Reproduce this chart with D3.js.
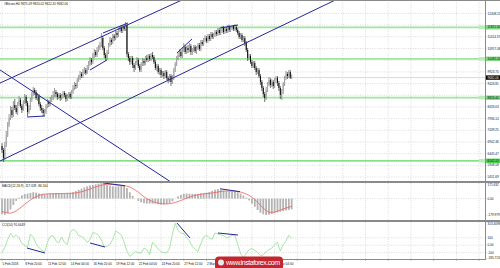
<!DOCTYPE html>
<html>
<head>
<meta charset="utf-8">
<script src="https://cdn.jsdelivr.net/npm/d3@7"></script>
<style>
body { margin: 0; background: #fff; }
svg { display: block; background: #fff; font-family: "Liberation Sans", Arial, sans-serif; }
.grid line { stroke: #c4c4c4; stroke-width: 0.6; stroke-dasharray: 1,1.4; }
.small { font-size: 3.1px; fill: #111; }
.sep { stroke: #8a8a8a; stroke-width: 2; }
.axis-line { stroke: #8a8a8a; stroke-width: 1; }
.trend { stroke: #25259a; stroke-width: 1; fill: none; }
</style>
</head>
<body>
<script>
var w = 500, h = 268;

// H4 candles (open = previous close)
var firstOpen = 6771;
var closes = [
  6601, 6261, 6814, 7239, 7665, 7962, 8303, 8090, 8515, 8388,
  8218, 8558, 8728, 8473, 8303, 8643, 8856, 8600, 8218, 8388,
  8728, 8983, 9153, 9068, 8813, 8898, 8558, 8388, 8303, 8175,
  8218, 8473, 8643, 8558, 8728, 8813, 8941, 9068, 8983, 8856,
  8941, 8813, 8898, 9026, 8941, 8770, 8898, 8983, 8856, 9068,
  9239, 9366, 9324, 9579, 9664, 9834, 9749, 9919, 10004, 9877,
  10089, 10259, 10430, 10344, 10600, 10770, 10642, 10855, 10940, 11068,
  11365, 10940, 10642, 10515, 10770, 11068, 11280, 11195, 11451, 11365,
  11578, 11493, 11706, 11791, 11663, 11833, 11748, 11919, 10685, 10515,
  10344, 10515, 10217, 10089, 10302, 10430, 10174, 10004, 10259, 10387,
  10302, 10515, 10430, 10600, 10472, 10642, 10557, 10344, 10089, 10174,
  9919, 10004, 9792, 9877, 9749, 9919, 9664, 9579, 9749, 9494,
  9664, 10004, 10259, 10515, 10642, 10770, 10600, 10855, 10983, 10770,
  10940, 10855, 11025, 10770, 10855, 10983, 10812, 10940, 11068, 10898,
  11195, 11110, 11280, 11365, 11238, 11451, 11323, 11536, 11408, 11493,
  11621, 11536, 11706, 11578, 11663, 11791, 11621, 11748, 11663, 11833,
  11706, 11791, 11876, 11748, 11833, 11706, 11578, 11408, 11493, 11280,
  11365, 11153, 10855, 10515, 10600, 10344, 10174, 10302, 10089, 9919,
  10004, 9749, 9494, 9239, 8983, 8813, 9153, 9409, 9579, 9366,
  9494, 9324, 9579, 9664, 9451, 9239, 8941, 9068, 9409, 9664,
  9834, 9749, 9919, 9675.09, 9682.06
];
var highs = [
  6899, 6686, 6941, 7409, 7792, 8132, 8473, 8430, 8685, 8770,
  8515, 8643, 8898, 8813, 8558, 8728, 8983, 8941, 8685, 8515,
  8813, 9068, 9281, 9239, 9153, 9026, 8983, 8643, 8515, 8388,
  8345, 8558, 8770, 8728, 8856, 8941, 9111, 9239, 9153, 9068,
  9026, 9026, 8983, 9111, 9111, 9026, 8983, 9068, 9068, 9153,
  9366, 9494, 9451, 9664, 9792, 9962, 9919, 10047, 10132, 10089,
  10217, 10387, 10557, 10515, 10727, 10898, 10855, 10983, 11068, 11195,
  11578, 11451, 11025, 10727, 10855, 11153, 11408, 11365, 11536, 11536,
  11663, 11663, 11791, 11876, 11876, 11919, 11919, 12046, 11961, 10770,
  10600, 10600, 10600, 10302, 10387, 10557, 10515, 10259, 10344, 10515,
  10472, 10600, 10642, 10685, 10685, 10727, 10770, 10642, 10430, 10259,
  10259, 10089, 10089, 9962, 9962, 10004, 10004, 9749, 9834, 9834,
  9792, 10089, 10344, 10600, 10770, 10898, 10855, 10983, 11153, 11068,
  11025, 11068, 11153, 11110, 10940, 11068, 11068, 11025, 11153, 11153,
  11280, 11280, 11365, 11493, 11451, 11536, 11536, 11621, 11621, 11578,
  11706, 11706, 11791, 11791, 11748, 11876, 11876, 11833, 11833, 11919,
  11919, 11876, 11919, 11919, 11961, 11919, 11791, 11663, 11578, 11578,
  11451, 11451, 11238, 10940, 10685, 10685, 10430, 10387, 10387, 10174,
  10089, 10089, 9834, 9579, 9324, 9068, 9281, 9494, 9706, 9664,
  9621, 9579, 9664, 9749, 9749, 9536, 9324, 9196, 9494, 9749,
  9962, 9919, 10004, 10004, 9820.02
];
var lows = [
  6473, 6090, 6176, 6729, 7154, 7580, 7877, 7962, 8005, 8303,
  8132, 8090, 8473, 8388, 8175, 8260, 8558, 8473, 8047, 8132,
  8303, 8643, 8898, 8941, 8728, 8685, 8473, 8260, 8175, 8047,
  8047, 8132, 8388, 8430, 8473, 8643, 8728, 8856, 8856, 8728,
  8770, 8685, 8728, 8813, 8856, 8643, 8685, 8813, 8770, 8770,
  8983, 9153, 9196, 9239, 9494, 9579, 9664, 9664, 9834, 9792,
  9834, 10004, 10174, 10217, 10259, 10515, 10557, 10557, 10770, 10855,
  10983, 10855, 10515, 10387, 10430, 10685, 10983, 11068, 11110, 11238,
  11280, 11365, 11408, 11621, 11578, 11578, 11663, 11663, 10557, 10387,
  10217, 10259, 10089, 9919, 10004, 10217, 10089, 9919, 9919, 10174,
  10174, 10217, 10344, 10344, 10387, 10387, 10472, 10259, 10004, 9962,
  9834, 9792, 9664, 9706, 9621, 9664, 9579, 9451, 9494, 9324,
  9409, 9579, 9919, 10174, 10430, 10557, 10515, 10515, 10770, 10685,
  10685, 10727, 10770, 10642, 10642, 10770, 10727, 10685, 10855, 10812,
  10812, 11025, 11025, 11195, 11153, 11153, 11238, 11238, 11323, 11323,
  11408, 11451, 11451, 11493, 11493, 11578, 11536, 11536, 11578, 11578,
  11621, 11621, 11706, 11663, 11663, 11621, 11493, 11323, 11323, 11195,
  11195, 11025, 10770, 10387, 10430, 10259, 10089, 10089, 10004, 9792,
  9834, 9664, 9366, 9111, 8856, 8643, 8728, 9068, 9324, 9239,
  9281, 9196, 9239, 9451, 9324, 9111, 8770, 8728, 8983, 9324,
  9579, 9621, 9664, 9621, 9622.45
];

// oscillators, one value per two bars
var macdMain = [
  -170, -178, -160, -120, -70, -25, 10, 35, 50, 55,
  62, 70, 66, 58, 52, 48, 50, 55, 58, 62,
  60, 58, 57, 60, 62, 70, 82, 95, 110, 122,
  135, 145, 152, 158, 164, 170, 160, 150, 142, 135,
  132, 135, 140, 142, 115, 70, 30, 0, -25, -40,
  -50, -55, -55, -56, -55, -60, -65, -62, -58, -50,
  -30, 0, 25, 42, 52, 55, 55, 52, 50, 52,
  58, 62, 66, 72, 85, 98, 104, 96, 88, 82,
  80, 78, 76, 70, 55, 35, 10, -20, -55, -90,
  -125, -155, -172, -179.979, -176, -168, -160, -152, -145, -138,
  -131, -124, -117.639
];
var macdSignal = [
  -140, -150, -158, -160, -150, -135, -112, -88, -62, -38,
  -15, 5, 22, 35, 44, 50, 52, 53, 53, 54,
  55, 56, 57, 58, 59, 60, 63, 68, 75, 84,
  95, 106, 117, 128, 138, 147, 154, 158, 158, 155,
  150, 146, 143, 141, 138, 128, 112, 92, 70, 45,
  20, 0, -18, -32, -42, -50, -55, -58, -58, -56,
  -50, -42, -32, -20, -8, 5, 16, 26, 35, 42,
  48, 52, 55, 58, 62, 67, 72, 78, 82, 84,
  84, 83, 81, 78, 72, 62, 50, 35, 15, -10,
  -40, -72, -105, -130, -148, -152, -148, -138, -126, -114,
  -103, -94, -86.164
];
var cciValues = [
  -100, -30, 80, 160, 110, 140, 100, 25, 0, -30,
  150, 110, 20, -30, -65, -95, 40, 120, 130, 60,
  30, 110, 40, 10, 170, 215, 190, 130, 118, 90,
  35, 80, 170, 160, 135, 70, -20, -15, 10, 80,
  190, 170, 140, 40, -80, -150, -120, -85, -100, -105,
  -40, -60, -125, 40, 0, -50, -88, -100, -105, -40,
  150, 295, 200, 160, 160, 100, 60, -15, -55, -85,
  20, 110, 135, 100, 80, 165, 150, 140, 130, 100,
  110, 135, 138, 10, -110, -170, -110, -60, -45, -70,
  -95, -140, -130, -90, -60, -40, 10, 40, -80, 10,
  60, 135, 91.6449
];

var priceTicks = [12408.15, 11911.26, 11414.37, 10917.48, 10420.59, 9923.70, 9426.81,
  8929.92, 8433.03, 7936.14, 7439.25, 6942.36, 6445.47, 5948.58, 5451.69];
var macdTicks = [171.632, 0, -179.979];
var cciTicks = [313.4096, 100, 0, -100, -185.7138];
var cciLevels = [100, 0, -100];
var dateLabels = ["5 Feb 2018", "8 Feb 20:00", "11 Feb 12:00", "14 Feb 04:00", "16 Feb 20:00",
  "19 Feb 12:00", "22 Feb 04:00", "24 Feb 20:00", "27 Feb 12:00", "2 Mar 04:00",
  "4 Mar 20:00", "7 Mar 12:00", "10 Mar 04:00"];
var levelPrices = [11821.30, 10481.05, 8826.40, 6142.15];
var lastPrice = 9682.06;

// trend lines: [bar, value] pairs
var priceTrends = [
  [[-2.1, 9430], [130.3, 13080]],
  [[-2.1, 10034], [118.3, 5265]],
  [[-2.1, 6112], [238, 13076]],
  [[17.6, 8005], [30.3, 8047]],
  [[62.0, 10004], [73.9, 10430]],
  [[71.1, 11578], [88.7, 12004]],
  [[123.2, 10727], [133.8, 11323]],
  [[153.5, 11791], [166.2, 11919]]
];
var macdTrends = [
  [[71.1, 172], [86.6, 142]],
  [[153.5, 108], [167.6, 76]]
];
var cciTrends = [
  [[17.6, -38], [30.3, -105]],
  [[62.0, 30], [72.5, -24]],
  [[123.2, 300], [132.4, 97]],
  [[152.1, 165], [166.2, 138]]
];

var plotRight = 485;
var xBar = d3.scaleLinear().domain([0, 340]).range([2, 2 + 340 * 1.42]);
var yPrice = d3.scaleLinear().domain([5282.3, 12982]).range([181, 0]);
var yMacd = d3.scaleLinear().domain([-179.979, 171.632]).range([215, 183]);
var yCci = d3.scaleLinear().domain([-185.7138, 313.4096]).range([259, 222]);

var svg = d3.select("body").append("svg").attr("width", w).attr("height", h);

var defs = svg.append("defs");
function clip(id, y0, y1) {
  defs.append("clipPath").attr("id", id).append("rect")
    .attr("x", 0).attr("y", y0).attr("width", plotRight).attr("height", y1 - y0);
}
clip("cMain", 0, 181);
clip("cMacd", 183, 220);
clip("cCci", 222, 259);

/* grid */
var grid = svg.append("g").attr("class", "grid");
var tickBars = d3.range(0, 340, 16);
[[0, 181], [183, 220], [222, 259]].forEach(function(p) {
  grid.selectAll(null).data(tickBars).enter().append("line")
    .attr("x1", function(d) { return xBar(d); }).attr("x2", function(d) { return xBar(d); })
    .attr("y1", p[0]).attr("y2", p[1]);
});
grid.selectAll(null).data(priceTicks).enter().append("line")
  .attr("x1", 0).attr("x2", plotRight)
  .attr("y1", function(d) { return yPrice(d); }).attr("y2", function(d) { return yPrice(d); });
grid.append("line").attr("x1", 0).attr("x2", plotRight).attr("y1", yMacd(0)).attr("y2", yMacd(0));
grid.selectAll(null).data(cciLevels).enter().append("line")
  .attr("x1", 0).attr("x2", plotRight)
  .attr("y1", function(d) { return yCci(d); }).attr("y2", function(d) { return yCci(d); });

/* main panel */
var main = svg.append("g").attr("clip-path", "url(#cMain)");

main.append("line").attr("x1", 0).attr("x2", plotRight)
  .attr("y1", yPrice(lastPrice)).attr("y2", yPrice(lastPrice))
  .attr("stroke", "#cfcfcf").attr("stroke-width", 0.8);

main.selectAll(".lvl").data(levelPrices).enter().append("line")
  .attr("class", "lvl")
  .attr("x1", 0).attr("x2", plotRight)
  .attr("y1", function(d) { return yPrice(d); }).attr("y2", function(d) { return yPrice(d); })
  .attr("stroke", function(d, i) { return i === 3 ? "#5ed65e" : "#9ee69e"; })
  .attr("stroke-width", function(d, i) { return i === 3 ? 1.3 : 1.8; });

var candles = closes.map(function(c, i) {
  return { i: i, o: i === 0 ? firstOpen : closes[i - 1], c: c, h: highs[i], l: lows[i] };
});

var cg = main.append("g");
cg.selectAll("line").data(candles).enter().append("line")
  .attr("x1", function(d) { return xBar(d.i); }).attr("x2", function(d) { return xBar(d.i); })
  .attr("y1", function(d) { return yPrice(d.h); }).attr("y2", function(d) { return yPrice(d.l); })
  .attr("stroke", function(d) { return d.c >= d.o ? "#555" : "#111"; })
  .attr("stroke-width", 0.6);
cg.selectAll("rect").data(candles).enter().append("rect")
  .attr("x", function(d) { return xBar(d.i) - 0.5; })
  .attr("width", 1)
  .attr("y", function(d) { return yPrice(Math.max(d.o, d.c)); })
  .attr("height", function(d) { return Math.max(0.6, Math.abs(yPrice(d.o) - yPrice(d.c))); })
  .attr("fill", function(d) { return d.c >= d.o ? "#a8a8a8" : "#0a0a0a"; });

var trendLine = function(ys) {
  return d3.line().x(function(p) { return xBar(p[0]); }).y(function(p) { return ys(p[1]); });
};
main.selectAll(".trend").data(priceTrends).enter().append("path")
  .attr("class", "trend").attr("d", trendLine(yPrice));

/* MACD panel */
var macd = svg.append("g").attr("clip-path", "url(#cMacd)");
macd.selectAll("rect").data(macdMain).enter().append("rect")
  .attr("x", function(d, k) { return xBar(2 * k) - 0.9; })
  .attr("width", 1.8)
  .attr("y", function(d) { return Math.min(yMacd(d), yMacd(0)); })
  .attr("height", function(d) { return Math.abs(yMacd(d) - yMacd(0)); })
  .attr("fill", "#b3b3b3");
macd.append("path").datum(macdSignal)
  .attr("d", d3.line().x(function(d, k) { return xBar(2 * k); }).y(function(d) { return yMacd(d); }))
  .attr("fill", "none").attr("stroke", "#f25c5c").attr("stroke-width", 0.8);
macd.selectAll(".trend").data(macdTrends).enter().append("path")
  .attr("class", "trend").attr("d", trendLine(yMacd));

/* CCI panel */
var cci = svg.append("g").attr("clip-path", "url(#cCci)");
cci.append("path").datum(cciValues)
  .attr("d", d3.line().x(function(d, k) { return xBar(2 * k); }).y(function(d) { return yCci(d); }))
  .attr("fill", "none").attr("stroke", "#8fe08f").attr("stroke-width", 0.8);
cci.selectAll(".trend").data(cciTrends).enter().append("path")
  .attr("class", "trend").attr("d", trendLine(yCci));

/* frames and separators */
svg.append("line").attr("class", "axis-line").attr("x1", 0).attr("x2", w).attr("y1", 0.5).attr("y2", 0.5);
svg.append("line").attr("class", "sep").attr("x1", 0).attr("x2", w).attr("y1", 182).attr("y2", 182);
svg.append("line").attr("class", "sep").attr("x1", 0).attr("x2", w).attr("y1", 221).attr("y2", 221);
svg.append("line").attr("class", "axis-line").attr("x1", 0).attr("x2", plotRight).attr("y1", 259.5).attr("y2", 259.5);
svg.append("line").attr("class", "axis-line").attr("x1", plotRight + 0.5).attr("x2", plotRight + 0.5).attr("y1", 0).attr("y2", 260);

/* right axis labels; price labels hidden under the level / price boxes like the terminal does */
var boxPrices = levelPrices.concat([lastPrice]);
function freeOfBoxes(d) {
  return boxPrices.every(function(b) { return Math.abs(yPrice(b) - yPrice(d)) > 4.2; });
}
function axisLabels(ticks, ys, fmt, top, bottom) {
  svg.selectAll(null).data(ticks).enter().append("line")
    .attr("x1", plotRight).attr("x2", plotRight + 1.5)
    .attr("y1", function(d) { return ys(d); }).attr("y2", function(d) { return ys(d); })
    .attr("stroke", "#888").attr("stroke-width", 0.5);
  svg.selectAll(null).data(ticks).enter().append("text")
    .attr("class", "small")
    .attr("x", plotRight + 2.5)
    .attr("y", function(d) { return Math.max(top + 1.8, Math.min(bottom - 1.5, ys(d))); })
    .attr("dy", "0.35em")
    .text(fmt);
}
var fmtNum = function(d) { return d === 0 ? "0.00" : String(d); };
axisLabels(priceTicks.filter(freeOfBoxes), yPrice, d3.format(".2f"), 0, 181);
axisLabels(macdTicks, yMacd, fmtNum, 183, 220);
axisLabels(cciTicks, yCci, fmtNum, 222, 259);

var boxes = svg.append("g");
boxes.selectAll("rect").data(levelPrices).enter().append("rect")
  .attr("x", plotRight + 1).attr("width", w - plotRight - 1)
  .attr("y", function(d) { return yPrice(d) - 2.2; }).attr("height", 4.4)
  .attr("fill", function(d, i) { return i === 3 ? "#4fcf4f" : "#7ed67e"; });
boxes.selectAll("text").data(levelPrices).enter().append("text")
  .attr("class", "small")
  .attr("x", plotRight + 2.5)
  .attr("y", function(d) { return yPrice(d); }).attr("dy", "0.35em")
  .text(d3.format(".2f"));
boxes.selectAll(".tag").data(levelPrices).enter().append("rect")
  .attr("class", "tag")
  .attr("x", plotRight - 6).attr("width", 6)
  .attr("y", function(d) { return yPrice(d) - 1.8; }).attr("height", 3.6)
  .attr("fill", "#b9ecb9");

svg.append("rect").attr("x", plotRight + 1).attr("width", w - plotRight - 1)
  .attr("y", yPrice(lastPrice) - 2.2).attr("height", 4.4).attr("fill", "#000");
svg.append("text").attr("class", "small").style("fill", "#fff")
  .attr("x", plotRight + 2.5).attr("y", yPrice(lastPrice)).attr("dy", "0.35em")
  .text(d3.format(".2f")(lastPrice));

/* date labels */
svg.selectAll(".date").data(dateLabels).enter().append("text")
  .attr("class", "small date")
  .attr("x", function(d, i) { return xBar(16 * i) + 0.5; })
  .attr("y", 265)
  .text(function(d) { return d; });
svg.selectAll(".dtick").data(tickBars).enter().append("line")
  .attr("x1", function(d) { return xBar(d); }).attr("x2", function(d) { return xBar(d); })
  .attr("y1", 259.5).attr("y2", 261).attr("stroke", "#888").attr("stroke-width", 0.5);

/* panel titles */
svg.append("text").attr("class", "small").attr("x", 4).attr("y", 5)
  .text("#Bitcoin,H4  9675.09 9820.02 9622.45 9682.06");
svg.append("text").attr("class", "small").attr("x", 2).attr("y", 186.5)
  .text("MACD(12,26,9) -117.639 -86.164");
svg.append("text").attr("class", "small").attr("x", 2).attr("y", 225.5)
  .text("CCI(14) 91.6449");

/* watermark */
var wm = svg.append("g");
wm.append("rect").attr("x", 215).attr("y", 256.5).attr("width", 68).attr("height", 14).attr("rx", 4)
  .attr("fill", "#c3272e");
wm.append("circle").attr("cx", 221).attr("cy", 262.5).attr("r", 3).attr("fill", "#e8e8e8");
wm.append("text").attr("x", 226).attr("y", 265)
  .attr("font-size", "7px").attr("fill", "#fff").attr("textLength", 54)
  .text("www.instaforex.com");
</script>
</body>
</html>
